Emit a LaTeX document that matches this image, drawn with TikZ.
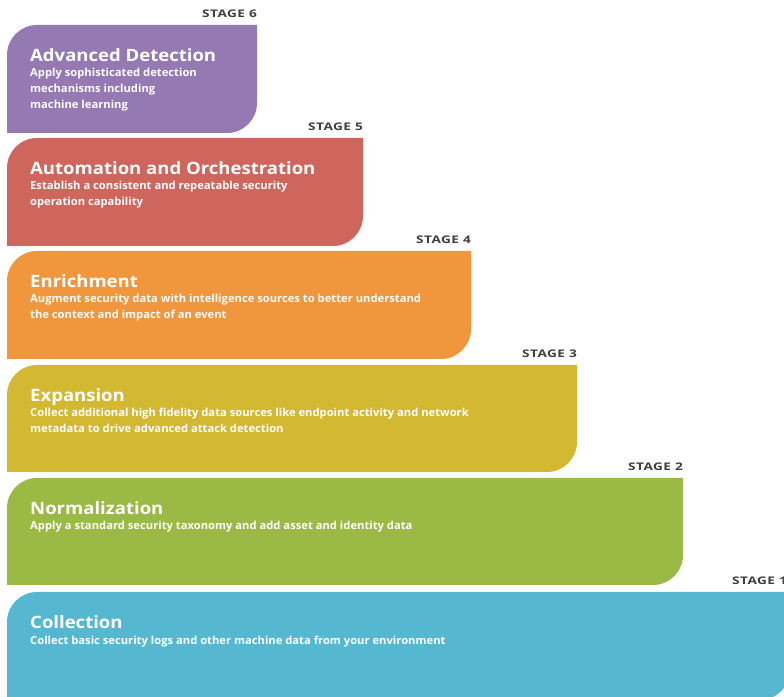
\documentclass[tikz,border=0pt]{standalone}
\usepackage{fontspec}
\setmainfont{Open Sans}[Ligatures=NoCommon]
\newfontfamily\titlefont{Open Sans}[Ligatures=NoCommon, FakeStretch=1.09]
\newfontfamily\descfont{Open Sans}[Ligatures=NoCommon, FakeStretch=1.02]
\newfontfamily\stagefont{Open Sans}[FakeStretch=1.3, LetterSpace=4]
\definecolor{stagesix}{HTML}{9479B3}
\definecolor{stagefive}{HTML}{CE665D}
\definecolor{stagefour}{HTML}{F0963D}
\definecolor{stagethree}{HTML}{D3B831}
\definecolor{stagetwo}{HTML}{9BB945}
\definecolor{stageone}{HTML}{56B8D0}
\definecolor{stagegray}{HTML}{3E3E40}
% band: colour, right edge, top, bottom
\newcommand{\stageband}[4]{\fill[#1] (7,#4) -- (7,#3-30) arc[start angle=180, end angle=90, radius=30] -- (#2,#3) -- (#2,#4+30) arc[start angle=0, end angle=-90, radius=30] -- cycle;}
\begin{document}
\begin{tikzpicture}[x=1pt, y=1pt]

      \tikzset{title/.style={anchor=base west, inner sep=0pt, text=white, font=\titlefont\fontsize{17}{20}\selectfont\bfseries},
               desc/.style={anchor=base west, inner sep=0pt, text=white, font=\descfont\fontsize{11}{16}\selectfont\bfseries},
               stagelabel/.style={anchor=base east, inner sep=0pt, text=stagegray, font=\stagefont\fontsize{10.5}{12}\selectfont\bfseries}}
      \useasboundingbox (0,0) rectangle (784,696);
%% Bands
      	\stageband{stagesix}{257}{671}{563}
      	\stageband{stagefive}{363}{558}{450}
      	\stageband{stagefour}{471}{445}{337}
      	\stageband{stagethree}{577}{331}{224}
      	\stageband{stagetwo}{683}{218}{111}
      	\stageband{stageone}{790}{104}{-4}
%% Stage labels
      	\node[stagelabel] (s6) at (257,678) {STAGE 6};
      	\node[stagelabel] (s5) at (363,565) {STAGE 5};
      	\node[stagelabel] (s4) at (471,452) {STAGE 4};
      	\node[stagelabel] (s3) at (577,338) {STAGE 3};
      	\node[stagelabel] (s2) at (683,225) {STAGE 2};
      	\node[stagelabel] (s1) at (787,111) {STAGE 1};
%% Titles
      	\node[title] (t6) at (30,634) {Advanced Detection};
      	\node[title] (t5) at (30,521) {Automation and Orchestration};
      	\node[title] (t4) at (30,408) {Enrichment};
      	\node[title] (t3) at (30,294) {Expansion};
      	\node[title] (t2) at (30,181) {Normalization};
      	\node[title] (t1) at (30,67) {Collection};
%Descriptions
      	\node[desc] (d6) at (30,619) {\begin{tabular}[t]{@{}l@{}}Apply sophisticated detection\\ mechanisms including\\ machine learning\end{tabular}};
      	\node[desc] (d5) at (30,506) {\begin{tabular}[t]{@{}l@{}}Establish a consistent and repeatable security\\ operation capability\end{tabular}};
      	\node[desc] (d4) at (30,393) {\begin{tabular}[t]{@{}l@{}}Augment security data with intelligence sources to better understand\\ the context and impact of an event\end{tabular}};
      	\node[desc] (d3) at (30,279) {\begin{tabular}[t]{@{}l@{}}Collect additional high fidelity data sources like endpoint activity and network\\ metadata to drive advanced attack detection\end{tabular}};
      	\node[desc] (d2) at (30,166) {Apply a standard security taxonomy and add asset and identity data};
      	\node[desc] (d1) at (30,52) {Collect basic security logs and other machine data from your environment};

\end{tikzpicture}
\end{document}
